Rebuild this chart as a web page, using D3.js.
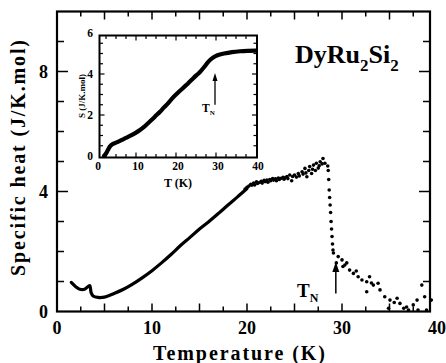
<!DOCTYPE html>
<html>
<head>
<meta charset="utf-8">
<script src="https://cdn.jsdelivr.net/npm/d3@7"></script>
<style>
  html, body { margin: 0; padding: 0; background: #fff; }
  svg { display: block; }
</style>
</head>
<body>
<svg id="chart" width="446" height="363"></svg>
<script>
// ---------- data ----------
// main curve (continuous part), temperature in K
const lineT = [1.5, 2.0, 2.4, 2.9, 3.3, 3.45, 3.6, 3.8, 4.3, 5.0, 6.0, 7.0, 8.0, 9.0, 10.0, 11.0, 12.0, 13.0, 14.0, 15.0, 16.0, 17.0, 18.0, 19.0, 20.0];
// specific heat, J/K.mol
const lineC = [0.97, 0.82, 0.74, 0.74, 0.84, 0.86, 0.62, 0.52, 0.47, 0.48, 0.60, 0.74, 0.92, 1.13, 1.36, 1.62, 1.90, 2.20, 2.47, 2.75, 3.00, 3.27, 3.55, 3.82, 4.10];
// scattered points above 20 K
const dotT = [19.8, 20.0, 20.2, 20.4, 20.5, 20.7, 20.8, 21.0, 21.1, 21.3, 21.5, 21.6, 21.8, 21.9, 22.1, 22.2, 22.4, 22.5, 22.7, 22.8, 23.0, 23.1, 23.3, 23.4, 23.6, 23.8, 23.9, 24.0, 24.2, 24.3, 24.5, 24.7, 24.8, 25.0, 25.2, 25.4, 25.5, 25.8, 25.9, 26.1, 26.2, 26.3, 26.5, 26.6, 26.8, 26.9, 27.0, 27.2, 27.3, 27.5, 27.6, 27.7, 27.9, 28.0, 28.2,
  28.5, 28.55, 28.6, 28.65, 28.7, 28.75, 28.8, 28.85, 28.9, 28.95, 29.0, 29.05,
  29.1, 29.4, 29.6, 30.0, 30.1, 30.3, 30.5, 30.8, 31.2, 31.5, 31.7, 32.1, 32.6, 32.9, 33.1, 33.3, 33.8, 34.0, 32.6, 34.5, 34.9, 35.05, 35.5, 35.8, 36.1, 36.5, 36.8, 37.0, 37.5, 37.9, 38.0, 38.4, 38.7, 38.9, 39.4];
const dotC = [4.08, 4.14, 4.18, 4.24, 4.21, 4.28, 4.22, 4.32, 4.27, 4.30, 4.34, 4.28, 4.37, 4.33, 4.38, 4.31, 4.40, 4.36, 4.43, 4.38, 4.42, 4.36, 4.45, 4.40, 4.44, 4.47, 4.41, 4.46, 4.50, 4.43, 4.55, 4.36, 4.50, 4.55, 4.48, 4.60, 4.52, 4.66, 4.58, 4.77, 4.62, 4.49, 4.70, 4.83, 4.60, 4.74, 4.88, 4.70, 4.94, 4.78, 4.86, 4.99, 4.92, 5.10, 4.94,
  4.85, 4.70, 4.40, 4.05, 3.80, 3.55, 3.30, 3.00, 2.75, 2.50, 2.25, 2.05,
  1.95, 1.62, 1.83, 1.72, 1.50, 1.55, 1.62, 1.38, 1.27, 1.35, 1.16, 1.05, 0.99, 1.16, 0.95, 0.88, 0.94, 0.72, 0.66, 0.49, 0.11, 0.38, 0.30, 0.44, 0.27, 0.11, 0.15, 0.05, 0.22, 0.38, 0.05, 0.88, 0.49, 0.05, 0.38];
// inset: entropy
const insetT = [2.0, 2.5, 3.0, 3.5, 4.0, 5.0, 6.0, 7.0, 8.0, 9.0, 10.0, 11.0, 12.0, 13.0, 14.0, 15.0, 16.0, 17.0, 18.0, 19.0, 20.0, 21.0, 22.0, 23.0, 24.0, 25.0, 26.0, 27.0, 28.0, 29.0, 30.0, 31.0, 32.0, 34.0, 36.0, 38.0, 40.0];
const insetS = [0.0, 0.12, 0.30, 0.47, 0.56, 0.65, 0.74, 0.84, 0.93, 1.03, 1.14, 1.27, 1.42, 1.60, 1.78, 1.97, 2.16, 2.37, 2.57, 2.80, 3.00, 3.18, 3.36, 3.54, 3.73, 3.92, 4.10, 4.33, 4.58, 4.76, 4.88, 4.95, 5.00, 5.07, 5.11, 5.13, 5.14];
// tick labels
const xTickLabels = [0, 10, 20, 30, 40];
const yTickLabels = [0, 4, 8];
const insetXTickLabels = [0, 10, 20, 30, 40];
const insetYTickLabels = [0, 2, 4, 6];
// annotations: T_N arrows (T, from value, to value)
const mainArrow = [29.35, 0.6, 1.65];
const insetArrow = [29.75, 2.5, 4.05];

const FONT = "'Liberation Serif', 'DejaVu Serif', 'Times New Roman', serif";

// ---------- scales ----------
const svg = d3.select("#chart");
const x = d3.scaleLinear().domain([0, 40]).range([57, 437]);
const y = d3.scaleLinear().domain([0, 10]).range([311.5, 11.5]);
const frame = { left: 57, right: 430, top: 11.5, bottom: 311.5 };

const ix = d3.scaleLinear().domain([0, 40]).range([96, 256]);
const iy = d3.scaleLinear().domain([0, 6]).range([156, 33]);
const iframe = { left: 99.5, right: 257, top: 35.5, bottom: 157.5 };

function txt(sel) {
  return sel.append("text").attr("font-family", FONT).attr("font-weight", "bold").attr("fill", "#000");
}

// ---------- main frame ----------
svg.append("rect").attr("x", frame.left).attr("y", frame.top)
  .attr("width", frame.right - frame.left).attr("height", frame.bottom - frame.top)
  .attr("fill", "none").attr("stroke", "#000").attr("stroke-width", 2.2);

const xt = d3.range(2.5, 40, 2.5);
xt.forEach(v => {
  const L = (v % 5 === 0) ? 8 : 5;
  if (x(v) < frame.right - 1) {
    svg.append("line").attr("x1", x(v)).attr("x2", x(v)).attr("y1", frame.bottom).attr("y2", frame.bottom - L).attr("stroke", "#000").attr("stroke-width", 1.5);
    svg.append("line").attr("x1", x(v)).attr("x2", x(v)).attr("y1", frame.top).attr("y2", frame.top + L).attr("stroke", "#000").attr("stroke-width", 1.5);
  }
});
d3.range(1, 10).forEach(v => {
  const L = (v % 4 === 0) ? 11 : 7;
  svg.append("line").attr("x1", frame.left).attr("x2", frame.left + L).attr("y1", y(v)).attr("y2", y(v)).attr("stroke", "#000").attr("stroke-width", 1.5);
  svg.append("line").attr("x1", frame.right).attr("x2", frame.right - L).attr("y1", y(v)).attr("y2", y(v)).attr("stroke", "#000").attr("stroke-width", 1.5);
});

xTickLabels.forEach(d => {
  txt(svg).attr("x", x(d)).attr("y", 334).attr("text-anchor", "middle").attr("font-size", 18).text(d);
});
yTickLabels.forEach(d => {
  txt(svg).attr("x", 48).attr("y", y(d) + 6).attr("text-anchor", "end").attr("font-size", 18).text(d);
});

txt(svg).attr("x", 239).attr("y", 360).attr("text-anchor", "middle")
  .attr("font-size", 20).attr("textLength", 172).attr("lengthAdjust", "spacing")
  .text("Temperature (K)");
txt(svg).attr("transform", "translate(25,158) rotate(-90)")
  .attr("text-anchor", "middle").attr("font-size", 20)
  .attr("textLength", 236).attr("lengthAdjust", "spacing")
  .text("Specific heat (J/K.mol)");

const comp = txt(svg).attr("x", 295).attr("y", 63).attr("font-size", 26);
comp.append("tspan").text("DyRu");
comp.append("tspan").attr("font-size", 17).attr("dy", 8).text("2");
comp.append("tspan").attr("dy", -8).text("Si");
comp.append("tspan").attr("font-size", 17).attr("dy", 8).text("2");

// ---------- main data ----------
const pts = lineT.map((t, i) => [t, lineC[i]]);
svg.append("path").datum(pts)
  .attr("d", d3.line().x(d => x(d[0])).y(d => y(d[1])).curve(d3.curveCatmullRom))
  .attr("fill", "none").attr("stroke", "#000").attr("stroke-width", 3.2).attr("stroke-linecap", "round");
svg.selectAll(".dot").data(dotT.map((t, i) => [t, dotC[i]])).enter().append("circle")
  .attr("cx", d => x(d[0])).attr("cy", d => y(d[1])).attr("r", 1.8).attr("fill", "#000");

function arrow(sx, sy, a, head, w, sw) {
  const xx = sx(a[0]), y1 = sy(a[1]), y2 = sy(a[2]);
  svg.append("line").attr("x1", xx).attr("x2", xx).attr("y1", y1).attr("y2", y2 + head - 1)
    .attr("stroke", "#000").attr("stroke-width", sw);
  svg.append("path").attr("d", `M${xx},${y2} L${xx - w},${y2 + head} L${xx + w},${y2 + head} Z`).attr("fill", "#000");
}
arrow(x, y, mainArrow, 10, 3.5, 1.5);
const tn = txt(svg).attr("x", 297).attr("y", 297).attr("font-size", 19);
tn.append("tspan").text("T");
tn.append("tspan").attr("font-size", 12).attr("dy", 5).text("N");

// ---------- inset ----------
svg.append("rect").attr("x", iframe.left).attr("y", iframe.top)
  .attr("width", iframe.right - iframe.left).attr("height", iframe.bottom - iframe.top)
  .attr("fill", "#fff").attr("stroke", "#000").attr("stroke-width", 2);
d3.range(2.5, 40, 2.5).forEach(v => {
  const L = (v % 10 === 0) ? 5 : 3.5;
  svg.append("line").attr("x1", ix(v)).attr("x2", ix(v)).attr("y1", iframe.bottom).attr("y2", iframe.bottom - L).attr("stroke", "#000").attr("stroke-width", 1.2);
  svg.append("line").attr("x1", ix(v)).attr("x2", ix(v)).attr("y1", iframe.top).attr("y2", iframe.top + L).attr("stroke", "#000").attr("stroke-width", 1.2);
});
d3.range(0.5, 6, 0.5).forEach(v => {
  const L = (v % 2 === 0) ? 5 : 3.5;
  svg.append("line").attr("x1", iframe.left).attr("x2", iframe.left + L).attr("y1", iy(v)).attr("y2", iy(v)).attr("stroke", "#000").attr("stroke-width", 1.2);
  svg.append("line").attr("x1", iframe.right).attr("x2", iframe.right - L).attr("y1", iy(v)).attr("y2", iy(v)).attr("stroke", "#000").attr("stroke-width", 1.2);
});
insetXTickLabels.forEach(d => {
  txt(svg).attr("x", ix(d) + 2).attr("y", 170).attr("text-anchor", "middle").attr("font-size", 11.5).text(d);
});
insetYTickLabels.forEach(d => {
  txt(svg).attr("x", 93).attr("y", iy(d) + 4).attr("text-anchor", "end").attr("font-size", 11.5).text(d);
});
txt(svg).attr("x", 178).attr("y", 187).attr("text-anchor", "middle").attr("font-size", 12).text("T (K)");
txt(svg).attr("transform", "translate(85,96) rotate(-90)")
  .attr("text-anchor", "middle").attr("font-size", 9).text("S (J/K.mol)");

const ipts = insetT.map((t, i) => [t, insetS[i]]);
svg.append("path").datum(ipts)
  .attr("d", d3.line().x(d => ix(d[0])).y(d => iy(d[1])).curve(d3.curveCatmullRom))
  .attr("fill", "none").attr("stroke", "#000").attr("stroke-width", 4.2).attr("stroke-linecap", "round");

arrow(ix, iy, insetArrow, 8, 2.5, 1.3);
const itn = txt(svg).attr("x", 202).attr("y", 112).attr("font-size", 11.5);
itn.append("tspan").text("T");
itn.append("tspan").attr("font-size", 7).attr("dy", 3).text("N");
</script>
</body>
</html>
